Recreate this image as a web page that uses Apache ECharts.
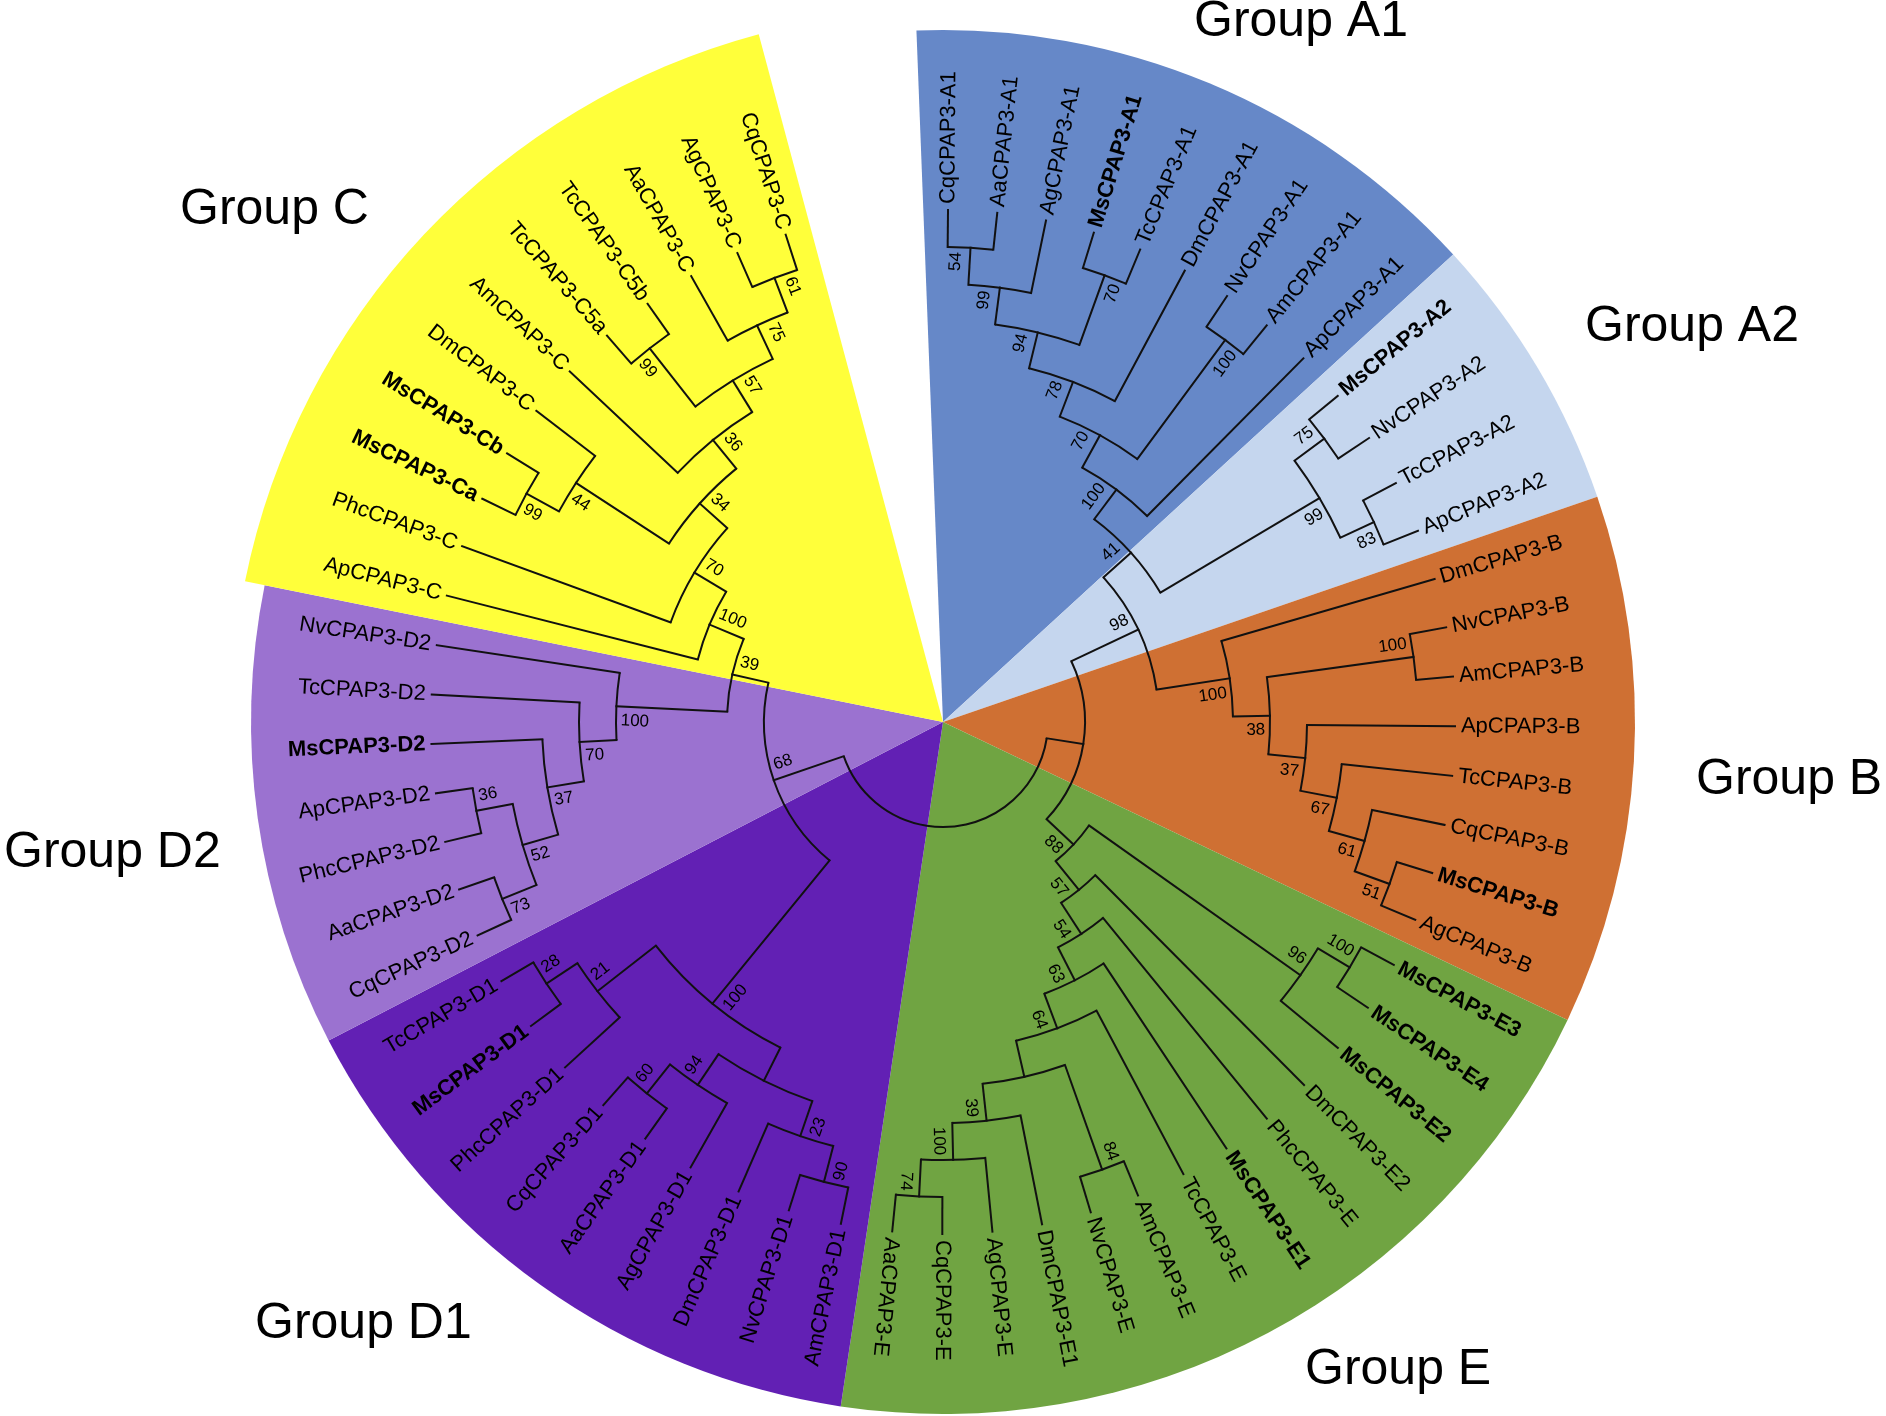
<!DOCTYPE html>
<html>
<head>
<meta charset="utf-8">
<script src="https://cdn.jsdelivr.net/npm/echarts/dist/echarts.min.js"></script>
<style>
html,body{margin:0;padding:0;background:#fff;}
#chart{width:1886px;height:1416px;}
</style>
</head>
<body>
<div id="chart"></div>
<script>
// ---------------- DATA ----------------
// leaves in clockwise order, starting at the top (Group A1)
const leafNames = [
  'CqCPAP3-A1','AaCPAP3-A1','AgCPAP3-A1','MsCPAP3-A1','TcCPAP3-A1','DmCPAP3-A1','NvCPAP3-A1','AmCPAP3-A1','ApCPAP3-A1',
  'MsCPAP3-A2','NvCPAP3-A2','TcCPAP3-A2','ApCPAP3-A2',
  'DmCPAP3-B','NvCPAP3-B','AmCPAP3-B','ApCPAP3-B','TcCPAP3-B','CqCPAP3-B','MsCPAP3-B','AgCPAP3-B',
  'MsCPAP3-E3','MsCPAP3-E4','MsCPAP3-E2','DmCPAP3-E2','PhcCPAP3-E','MsCPAP3-E1','TcCPAP3-E','AmCPAP3-E','NvCPAP3-E','DmCPAP3-E1','AgCPAP3-E','CqCPAP3-E','AaCPAP3-E',
  'AmCPAP3-D1','NvCPAP3-D1','DmCPAP3-D1','AgCPAP3-D1','AaCPAP3-D1','CqCPAP3-D1','PhcCPAP3-D1','MsCPAP3-D1','TcCPAP3-D1',
  'CqCPAP3-D2','AaCPAP3-D2','PhcCPAP3-D2','ApCPAP3-D2','MsCPAP3-D2','TcCPAP3-D2','NvCPAP3-D2',
  'ApCPAP3-C','PhcCPAP3-C','MsCPAP3-Ca','MsCPAP3-Cb','DmCPAP3-C','AmCPAP3-C','TcCPAP3-C5a','TcCPAP3-C5b','AaCPAP3-C','AgCPAP3-C','CqCPAP3-C'
];
const boldLeaves = ['MsCPAP3-A1','MsCPAP3-A2','MsCPAP3-B','MsCPAP3-E3','MsCPAP3-E4','MsCPAP3-E2','MsCPAP3-E1','MsCPAP3-D1','MsCPAP3-D2','MsCPAP3-Ca','MsCPAP3-Cb'];

// clades: [id, first child (counter-clockwise side), second child, bootstrap]
const clades = [
  ['a54','CqCPAP3-A1','AaCPAP3-A1','54'],
  ['a99','a54','AgCPAP3-A1','99'],
  ['a70','MsCPAP3-A1','TcCPAP3-A1','70'],
  ['a94','a99','a70','94'],
  ['a78','a94','DmCPAP3-A1','78'],
  ['a100','NvCPAP3-A1','AmCPAP3-A1','100'],
  ['a70b','a78','a100','70'],
  ['A1','a70b','ApCPAP3-A1','100'],
  ['b75','MsCPAP3-A2','NvCPAP3-A2','75'],
  ['b83','TcCPAP3-A2','ApCPAP3-A2','83'],
  ['A2','b75','b83','99'],
  ['n41','A1','A2','41'],
  ['c100','NvCPAP3-B','AmCPAP3-B','100'],
  ['c51','MsCPAP3-B','AgCPAP3-B','51'],
  ['c61','CqCPAP3-B','c51','61'],
  ['c67','TcCPAP3-B','c61','67'],
  ['c37','ApCPAP3-B','c67','37'],
  ['c38','c100','c37','38'],
  ['B','DmCPAP3-B','c38','100'],
  ['n98','n41','B','98'],
  ['e100','MsCPAP3-E3','MsCPAP3-E4','100'],
  ['e96','e100','MsCPAP3-E2','96'],
  ['e84','AmCPAP3-E','NvCPAP3-E','84'],
  ['e74','CqCPAP3-E','AaCPAP3-E','74'],
  ['e100b','AgCPAP3-E','e74','100'],
  ['e39','DmCPAP3-E1','e100b','39'],
  ['eB','e84','e39',''],
  ['e64','TcCPAP3-E','eB','64'],
  ['e63','MsCPAP3-E1','e64','63'],
  ['e54','PhcCPAP3-E','e63','54'],
  ['e57','DmCPAP3-E2','e54','57'],
  ['E','e96','e57','88'],
  ['Y','n98','E',''],
  ['d90','AmCPAP3-D1','NvCPAP3-D1','90'],
  ['d23','d90','DmCPAP3-D1','23'],
  ['d60','AaCPAP3-D1','CqCPAP3-D1','60'],
  ['d94','AgCPAP3-D1','d60','94'],
  ['dP','d23','d94',''],
  ['d28','MsCPAP3-D1','TcCPAP3-D1','28'],
  ['d21','PhcCPAP3-D1','d28','21'],
  ['D1','dP','d21','100'],
  ['f73','CqCPAP3-D2','AaCPAP3-D2','73'],
  ['f36','PhcCPAP3-D2','ApCPAP3-D2','36'],
  ['f52','f73','f36','52'],
  ['f37','f52','MsCPAP3-D2','37'],
  ['f70','f37','TcCPAP3-D2','70'],
  ['D2','f70','NvCPAP3-D2','100'],
  ['g99a','MsCPAP3-Ca','MsCPAP3-Cb','99'],
  ['g44','g99a','DmCPAP3-C','44'],
  ['g99b','TcCPAP3-C5a','TcCPAP3-C5b','99'],
  ['g61','AgCPAP3-C','CqCPAP3-C','61'],
  ['g75','AaCPAP3-C','g61','75'],
  ['g57','g99b','g75','57'],
  ['g36','AmCPAP3-C','g57','36'],
  ['g34','g44','g36','34'],
  ['g70','PhcCPAP3-C','g34','70'],
  ['C','ApCPAP3-C','g70','100'],
  ['n39','D2','C','39'],
  ['X','D1','n39','68'],
  ['root','Y','X','']
];

// coloured groups, clockwise; edges in degrees clockwise from 12 o'clock
const groupNames = ['Group A1','Group A2','Group B','Group E','Group D1','Group D2','Group C'];
const groupLeafCounts = [9, 4, 8, 13, 9, 7, 11];
const groupEdgesDeg = [-2.2, 47.5, 71, 115.5, 188.5, 242.6, 281.4, 345];

// ---------------- STYLE / LAYOUT ----------------
const STYLE = {
  center: [943, 722],
  outerPx: 692,
  groupOuterPx: [692, 692, 692, 692, 692, 692, 712],
  tipPx: 512,
  levelPx: 37,
  flipFrom: 190,
  leafGap: 6,
  bsGap: 5,
  bsSide: 14,
  groupColors: ['#6688c8','#c5d6ee','#cf7033','#70a442','#6220b4','#9b72d0','#ffff3a'],
  groupLabelPos: [[1194,22],[1585,327],[1696,780],[1305,1370],[255,1324],[4,853],[180,210]],
  font: '"Liberation Sans", Arial, Helvetica, sans-serif',
  leafFontSize: 22,
  bsFontSize: 17,
  groupFontSize: 50,
  lineColor: '#111',
  lineWidth: 2
};

// ---------------- TREE LAYOUT (cladogram, tips aligned) ----------------
// each leaf sits in the middle of its slot inside its group's sector
const leafAngles = [];
groupLeafCounts.forEach((n, g) => {
  const a0 = groupEdgesDeg[g], step = (groupEdgesDeg[g + 1] - a0) / n;
  for (let k = 0; k < n; k++) leafAngles.push(a0 + (k + 0.5) * step);
});

const info = {};
leafNames.forEach((n, i) => { info[n] = { h: 0, a: leafAngles[i], leaf: true, idx: i }; });
clades.forEach(([id, c1, c2, bs]) => {
  const A = info[c1], B = info[c2];
  info[id] = { h: Math.max(A.h, B.h) + 1, a: (A.a + B.a) / 2, bs: bs };
  A.side = -1; B.side = 1;
});

const hCenter = STYLE.tipPx / STYLE.levelPx;
const hOuter = -(STYLE.outerPx - STYLE.tipPx) / STYLE.levelPx;

const branchData = [];
clades.forEach(([id, c1, c2]) => {
  const P = info[id];
  branchData.push([P.h, info[c1].a, info[c2].a, 1]);
  [c1, c2].forEach(c => branchData.push([info[c].h, info[c].a, P.h, 0]));
});
const leafData = leafNames.map((n, i) => [0, info[n].a, i]);
const bsData = [];
clades.forEach(([id], k) => {
  const N = info[id];
  if (N.bs) bsData.push([N.h, N.a, N.side, k]);
});
const sectorData = groupNames.map((g, i) => [
  (STYLE.tipPx - STYLE.groupOuterPx[i]) / STYLE.levelPx, groupEdgesDeg[i], groupEdgesDeg[i + 1], i
]);

function norm(a) { return ((a % 360) + 360) % 360; }
function isFlipped(a) { const t = norm(a); return t > STYLE.flipFrom && t < 360; }
function polarInfo(cs, p) {
  const dx = p[0] - cs.cx, dy = p[1] - cs.cy, r = Math.hypot(dx, dy);
  return { r: r, ux: dx / r, uy: dy / r, phi: Math.atan2(dy, dx) };
}

const chart = echarts.init(document.getElementById('chart'), null, { renderer: 'canvas' });
chart.setOption({
  animation: false,
  backgroundColor: '#ffffff',
  polar: { center: STYLE.center, radius: STYLE.outerPx },
  angleAxis: { type: 'value', min: 0, max: 360, startAngle: 90, clockwise: true, show: false },
  radiusAxis: { type: 'value', inverse: true, min: hOuter, max: hCenter, show: false },
  graphic: groupNames.map((g, i) => ({
    type: 'text', x: STYLE.groupLabelPos[i][0], y: STYLE.groupLabelPos[i][1], z: 10,
    style: { text: g, fill: '#000', font: STYLE.groupFontSize + 'px ' + STYLE.font, align: 'left', verticalAlign: 'middle' }
  })),
  series: [
    {
      type: 'custom', coordinateSystem: 'polar', clip: false, z: 1,
      encode: { radius: 0, angle: 1 },
      data: sectorData,
      renderItem: function (params, api) {
        const cs = params.coordSys;
        const h = api.value(0);
        const p1 = polarInfo(cs, api.coord([h, api.value(1)]));
        const p2 = polarInfo(cs, api.coord([h, api.value(2)]));
        return {
          type: 'sector',
          shape: { cx: cs.cx, cy: cs.cy, r0: 0, r: p1.r, startAngle: p1.phi, endAngle: p2.phi, clockwise: true },
          style: { fill: STYLE.groupColors[api.value(3)], stroke: null }
        };
      }
    },
    {
      type: 'custom', coordinateSystem: 'polar', clip: false, z: 2,
      encode: { radius: 0, angle: 1 },
      data: branchData,
      renderItem: function (params, api) {
        const cs = params.coordSys;
        if (api.value(3) === 0) {
          const p1 = api.coord([api.value(0), api.value(1)]);
          const p2 = api.coord([api.value(2), api.value(1)]);
          return { type: 'line', shape: { x1: p1[0], y1: p1[1], x2: p2[0], y2: p2[1] },
                   style: { stroke: STYLE.lineColor, lineWidth: STYLE.lineWidth, lineCap: 'square' } };
        }
        const a = polarInfo(cs, api.coord([api.value(0), api.value(1)]));
        const b = polarInfo(cs, api.coord([api.value(0), api.value(2)]));
        return { type: 'arc', shape: { cx: cs.cx, cy: cs.cy, r: a.r, startAngle: a.phi, endAngle: b.phi, clockwise: true },
                 style: { stroke: STYLE.lineColor, fill: null, lineWidth: STYLE.lineWidth } };
      }
    },
    {
      type: 'custom', coordinateSystem: 'polar', clip: false, z: 3,
      encode: { radius: 0, angle: 1 },
      data: leafData,
      renderItem: function (params, api) {
        const cs = params.coordSys;
        const ang = api.value(1);
        const name = leafNames[api.value(2)];
        const p = polarInfo(cs, api.coord([api.value(0), ang]));
        const R = p.r + STYLE.leafGap;
        const flip = isFlipped(ang);
        const bold = boldLeaves.indexOf(name) >= 0;
        return {
          type: 'text', x: cs.cx + p.ux * R, y: cs.cy + p.uy * R,
          rotation: flip ? Math.PI - p.phi : -p.phi,
          style: { text: name, x: 0, y: 0, fill: '#000', align: flip ? 'right' : 'left', verticalAlign: 'middle',
                   font: (bold ? 'bold ' : '') + STYLE.leafFontSize + 'px ' + STYLE.font }
        };
      }
    },
    {
      type: 'custom', coordinateSystem: 'polar', clip: false, z: 3,
      encode: { radius: 0, angle: 1 },
      data: bsData,
      renderItem: function (params, api) {
        const cs = params.coordSys;
        const ang = api.value(1);
        const side = api.value(2);
        const txt = clades[api.value(3)][3];
        const p = polarInfo(cs, api.coord([api.value(0), ang]));
        const R = p.r - STYLE.bsGap;
        const tx = -p.uy, ty = p.ux;
        const flip = isFlipped(ang);
        return {
          type: 'text',
          x: cs.cx + p.ux * R + side * STYLE.bsSide * tx,
          y: cs.cy + p.uy * R + side * STYLE.bsSide * ty,
          rotation: flip ? Math.PI - p.phi : -p.phi,
          style: { text: txt, x: 0, y: 0, fill: '#000', align: flip ? 'left' : 'right', verticalAlign: 'middle',
                   font: STYLE.bsFontSize + 'px ' + STYLE.font }
        };
      }
    }
  ]
});
</script>
</body>
</html>
